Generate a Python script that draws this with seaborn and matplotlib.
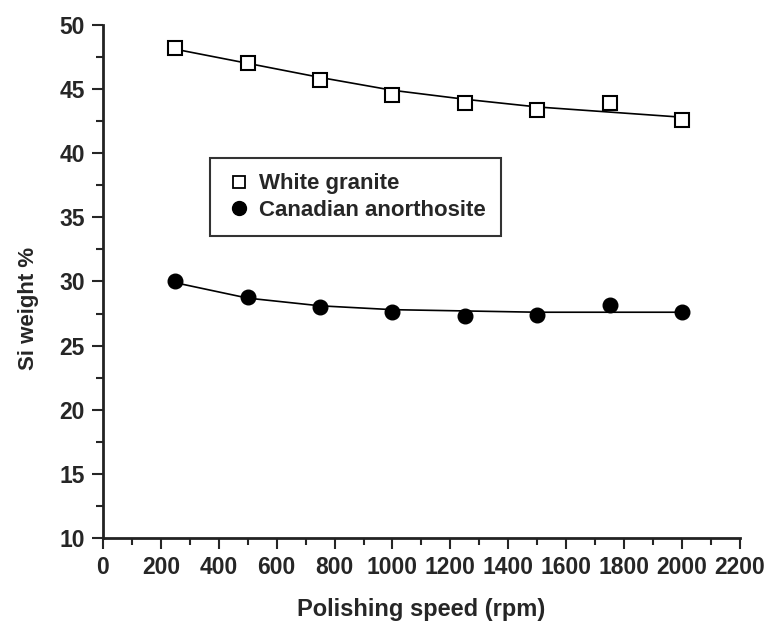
import matplotlib
matplotlib.use("Agg")
import matplotlib.pyplot as plt
from matplotlib.lines import Line2D
from matplotlib.ticker import MultipleLocator
import seaborn as sns
import pandas as pd

speed = [250, 500, 750, 1000, 1250, 1500, 1750, 2000]
granite = [48.2, 47.0, 45.7, 44.5, 43.9, 43.4, 43.9, 42.6]
anorthosite = [30.0, 28.8, 28.0, 27.6, 27.3, 27.4, 28.2, 27.6]
granite_fit = [48.1, 47.0, 45.9, 44.9, 44.2, 43.6, 43.2, 42.8]
anorthosite_fit = [29.9, 28.7, 28.1, 27.8, 27.7, 27.6, 27.6, 27.6]
labels = ["White granite", "Canadian anorthosite"]

sns.set_style("ticks")
plt.rcParams['font.family'] = ['Liberation Sans', 'DejaVu Sans']
plt.rcParams['font.weight'] = 'bold'

df = pd.DataFrame({"speed": speed, "granite": granite, "anorthosite": anorthosite,
                   "gfit": granite_fit, "afit": anorthosite_fit})

fig = plt.figure(figsize=(7.68, 6.21), dpi=100)
ax = fig.add_axes([0.134, 0.1336, 0.8295, 0.8264])

sns.lineplot(data=df, x="speed", y="gfit", ax=ax, color="black", lw=1.2)
sns.lineplot(data=df, x="speed", y="afit", ax=ax, color="black", lw=1.2)
ax.plot(df["speed"], df["granite"], ls="none", marker="s", ms=9.5, mfc="white",
        mec="black", mew=1.5, zorder=3)
ax.plot(df["speed"], df["anorthosite"], ls="none", marker="o", ms=10.5, mfc="black",
        mec="black", zorder=3)

ax.set_xlim(0, 2200)
ax.set_ylim(10, 50)
ax.xaxis.set_major_locator(MultipleLocator(200))
ax.xaxis.set_minor_locator(MultipleLocator(100))
ax.yaxis.set_major_locator(MultipleLocator(5))
ax.yaxis.set_minor_locator(MultipleLocator(2.5))
ax.tick_params(axis='both', which='major', length=8, width=1.5, labelsize=16.5,
               direction='out', pad=5)
ax.tick_params(axis='both', which='minor', length=5, width=1.5, direction='out')
for lab in ax.get_xticklabels() + ax.get_yticklabels():
    lab.set_fontweight('bold')
sns.despine(ax=ax)
for s in ['left', 'bottom']:
    ax.spines[s].set_linewidth(2)
    ax.spines[s].set_color('#222222')

ax.set_xlabel("Polishing speed (rpm)", fontsize=17, fontweight='bold')
ax.set_ylabel("Si weight %", fontsize=16, fontweight='bold')
ax.xaxis.set_label_coords(0.5, -0.117)
ax.yaxis.set_label_coords(-0.100, 0.448)

handles = [Line2D([], [], ls="none", marker="s", ms=8.5, mfc="white", mec="black", mew=1.3),
           Line2D([], [], ls="none", marker="o", ms=10, mfc="black", mec="black")]
leg = ax.legend(handles, labels, loc="upper left", bbox_to_anchor=(0.168, 0.741),
                borderaxespad=0, frameon=True, fancybox=False, edgecolor="black",
                prop={'weight': 'bold', 'size': 16}, handletextpad=0.3,
                borderpad=0.7, labelspacing=0.25, handlelength=1.2)
leg.get_frame().set_linewidth(1.5)

fig.savefig("out.png", dpi=100)
